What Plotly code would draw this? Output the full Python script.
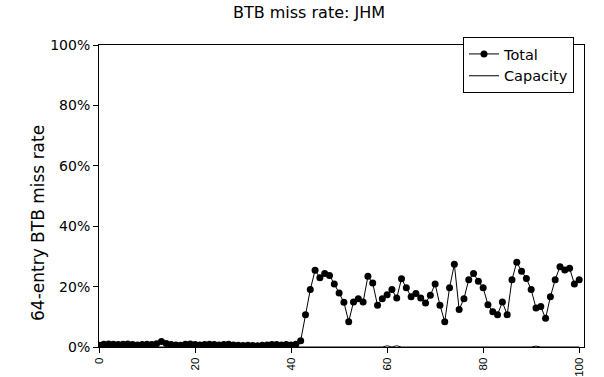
import plotly.graph_objects as go

# Sample index along the run
steps = list(range(0, 101))

# Total BTB miss rate (%) per sample
total_pct = [
    0.6, 0.9, 1.0, 0.9, 0.8, 0.9, 1.0, 0.8, 0.7, 0.8,
    0.9, 0.8, 1.1, 1.8, 1.2, 0.8, 0.7, 0.6, 0.9, 1.0,
    0.8, 0.7, 0.8, 0.9, 0.8, 0.7, 0.8, 0.9, 0.7, 0.6,
    0.5, 0.6, 0.5, 0.4, 0.6, 0.7, 0.8, 0.8, 0.7, 0.8,
    0.7, 0.9,
    2.1, 10.7, 19.0, 25.4, 22.9, 24.3, 23.7, 20.9, 17.9, 14.8,
    8.4, 14.9, 16.0, 14.9, 23.4, 21.2, 13.8, 16.0, 17.3, 19.0,
    16.2, 22.6, 19.6, 16.6, 17.7, 16.2, 14.6, 17.1, 20.9, 13.8,
    8.4, 19.6, 27.4, 12.4, 16.0, 22.3, 24.3, 21.8, 19.6, 14.0,
    11.7, 10.7, 14.9, 10.7, 22.3, 28.1, 25.1, 22.7, 19.0, 12.9,
    13.4, 9.5, 16.6, 22.3, 26.6, 25.5, 26.1, 20.9, 22.3,
]

# Capacity-miss component (%), almost always zero
capacity_pct = [0.0] * 101
capacity_pct[60] = 0.4
capacity_pct[62] = 0.4
capacity_pct[91] = 0.3

x_ticks = [0, 20, 40, 60, 80, 100]
y_ticks = [0, 20, 40, 60, 80, 100]

WIDE = "DejaVu Sans, Verdana, sans-serif"
NARROW = "Liberation Sans, Arial, sans-serif"

fig = go.Figure()
fig.add_trace(go.Scatter(
    x=steps, y=total_pct, name="Total", mode="lines+markers",
    line=dict(color="black", width=1),
    marker=dict(symbol="circle", size=7, color="black"),
))
fig.add_trace(go.Scatter(
    x=steps, y=capacity_pct, name="Capacity", mode="lines",
    line=dict(color="black", width=1),
))

fig.update_layout(
    width=604, height=377,
    margin=dict(l=99, r=20, t=45, b=30, autoexpand=False),
    paper_bgcolor="white", plot_bgcolor="white",
    font=dict(family=WIDE, size=14, color="black"),
    title=dict(text="BTB miss rate: JHM", x=(309 - 99) / 485, xref="paper",
               xanchor="center", y=1 - 12 / 377, yanchor="middle",
               font=dict(family=WIDE, size=16, color="black")),
    showlegend=True,
    legend=dict(
        x=(463 - 99) / 485, xanchor="left",
        y=(347 - 37) / 302, yanchor="top",
        bgcolor="white", bordercolor="black", borderwidth=1,
        font=dict(family=WIDE, size=14.5, color="black"),
    ),
    annotations=[dict(
        text="64-entry BTB miss rate", textangle=-90,
        xref="paper", yref="paper",
        x=(38 - 99) / 485, y=(347 - 223) / 302,
        xanchor="center", yanchor="middle", showarrow=False,
        font=dict(family=WIDE, size=17, color="black"),
    )],
)

fig.update_xaxes(
    range=[0, 101], tickvals=x_ticks, ticktext=[str(v) for v in x_ticks],
    tickangle=-90, ticks="outside", ticklen=5, tickcolor="black",
    showline=True, linecolor="black", linewidth=1, mirror=True,
    showgrid=False, zeroline=False,
    tickfont=dict(family=NARROW, size=11.5, color="black"),
)
fig.update_yaxes(
    range=[0, 100], tickvals=y_ticks, ticktext=[f"{v}%" for v in y_ticks],
    ticks="outside", ticklen=5, tickcolor="black",
    showline=True, linecolor="black", linewidth=1, mirror=True,
    showgrid=False, zeroline=False,
    tickfont=dict(family=WIDE, size=14, color="black"),
)

fig.write_html("out.html")
